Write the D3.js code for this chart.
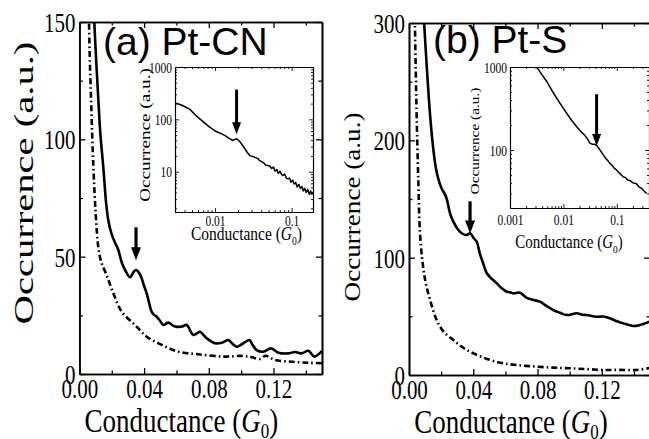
<!DOCTYPE html>
<html>
<head>
<meta charset="utf-8">
<script src="https://cdn.jsdelivr.net/npm/d3@7"></script>
<style>
	html, body { margin: 0; padding: 0; background: #fff; }
	svg { display: block; }
	.serif { font-family: "Liberation Serif", "DejaVu Serif", serif; fill: #000; }
</style>
</head>
<body>
<div id="chart"></div>
<script>
// ---------------------------------------------------------------
// Data
// ---------------------------------------------------------------
var xTicksMain = [0, 0.04, 0.08, 0.12];
var xMinorMain = [0.02, 0.06, 0.10, 0.14];
var yTicksA = [0, 50, 100, 150];
var yMinorA = [25, 75, 125];
var yTicksB = [0, 100, 200, 300];
var yMinorB = [50, 150, 250];

// (a) Pt-CN, solid = with molecules, dash-dot = reference
var cnSolid = [[0.0092,150],[0.0105,132],[0.0117,117],[0.013,102],[0.0148,88],[0.0165,73],[0.018,65],[0.02,59.5],[0.022,56],[0.024,53],[0.0262,47.5],[0.0285,44],[0.0313,41.2],[0.0335,43.5],[0.035,44.3],[0.0368,43.2],[0.0385,40.8],[0.04,37.5],[0.0416,34.4],[0.0432,30],[0.0447,26.5],[0.0462,25.2],[0.0478,24.4],[0.05,22.5],[0.0519,20.9],[0.055,21.9],[0.0581,20.5],[0.0605,20.1],[0.0633,20.2],[0.0664,20.9],[0.0685,18.5],[0.0704,16.6],[0.0725,17.2],[0.0746,18.0],[0.0765,16.8],[0.0787,15.2],[0.0812,14.0],[0.0839,13.1],[0.088,13.3],[0.0921,14.5],[0.0945,13.0],[0.0973,11.6],[0.1014,13.1],[0.1051,14.5],[0.107,12.5],[0.1096,10.2],[0.1137,9.5],[0.1185,10.9],[0.123,9.1],[0.1292,8.8],[0.1333,9.4],[0.1375,8.8],[0.1416,9.9],[0.1453,7.4],[0.15,9.8]];
var cnDash = [[0.0058,155],[0.0064,135],[0.0072,117],[0.0086,89],[0.0101,68],[0.0117,54],[0.0134,48],[0.0169,42],[0.021,34.4],[0.0262,26.5],[0.0344,20.9],[0.0416,15.9],[0.0509,12.4],[0.0612,9.5],[0.0735,8.4],[0.09,7.4],[0.1004,7.7],[0.1066,7.1],[0.112,6.4],[0.115,7.8],[0.121,6.0],[0.1313,5.2],[0.1416,4.8],[0.15,4.6]];

// (b) Pt-S
var sSolid = [[0.0092,305],[0.011,264],[0.0131,222],[0.0151,193],[0.0172,173],[0.0203,159],[0.022,155],[0.0235,150],[0.0255,138],[0.0276,130.7],[0.0305,124],[0.0328,120.8],[0.0359,119.3],[0.038,120.8],[0.0401,117],[0.0421,113.6],[0.0442,103],[0.0462,95],[0.0484,86.7],[0.0515,82],[0.0546,78.2],[0.0577,74],[0.0608,71],[0.0628,70.6],[0.0649,69.6],[0.0691,70.2],[0.073,66],[0.0774,63.9],[0.0815,62.5],[0.0855,59],[0.0898,55.4],[0.094,53],[0.0981,51.1],[0.1044,52.6],[0.1075,51.5],[0.1106,51.1],[0.1168,49.7],[0.121,49.8],[0.125,48.3],[0.129,46],[0.1334,44],[0.1396,41.8],[0.1437,42.6],[0.15,45.6]];
var sDash = [[0.0036,305],[0.0042,260],[0.0048,218],[0.0058,166],[0.0068,122],[0.0087,93],[0.0105,78],[0.0131,64],[0.0172,46.9],[0.0215,37],[0.0276,29.8],[0.034,23],[0.04,18.5],[0.049,13.5],[0.0587,10],[0.0685,8.3],[0.0795,7.1],[0.09,6.3],[0.1002,5.7],[0.111,5.0],[0.1209,4.3],[0.131,4.4],[0.1417,4.3],[0.15,6]];

// insets (log-log)
var cnInset = [[0.003,205],[0.0035,192],[0.004,176],[0.0047,155],[0.0055,122],[0.0065,99],[0.0074,84],[0.0085,71],[0.01,60],[0.0115,55],[0.0135,49],[0.0155,43],[0.0172,39.5],[0.0182,41.5],[0.0191,42.5],[0.0202,40],[0.0211,37.5],[0.0228,32],[0.0245,27.4],[0.0265,23],[0.0285,20.3],[0.031,19.6],[0.0331,18.8],[0.036,18],[0.038,16.4],[0.0405,15.6],[0.043,14.9],[0.046,13.3],[0.0493,13.2],[0.052,12.7],[0.055,11.5],[0.058,12.3],[0.0604,10.3],[0.064,11.0],[0.067,9.3],[0.0705,10.2],[0.0738,8.9],[0.077,8.5],[0.081,9.0],[0.0855,7.5],[0.09,7.3],[0.094,7.6],[0.098,6.3],[0.103,6.9],[0.108,5.8],[0.113,6.2],[0.118,5.1],[0.124,5.7],[0.13,4.8],[0.136,5.2],[0.142,4.3],[0.148,4.8],[0.155,4.0],[0.162,4.6],[0.17,3.7],[0.177,4.3],[0.183,3.7],[0.19,4.0]];
var sInset = [[0.0031,1020],[0.0039,820],[0.0049,665],[0.006,530],[0.0075,420],[0.0093,340],[0.0115,277],[0.0142,228],[0.0177,191],[0.021,168],[0.0252,150],[0.0285,134],[0.0313,121],[0.035,117],[0.0388,117],[0.0418,113],[0.0448,107],[0.05,97],[0.0555,88],[0.062,79],[0.068,74.5],[0.074,69],[0.082,65],[0.09,60],[0.0986,57.5],[0.11,53],[0.12,50.5],[0.131,47.5],[0.145,46.5],[0.16,43.5],[0.18,42.5],[0.202,40],[0.23,39.5],[0.26,36],[0.3,34],[0.33,31.5],[0.36,30]];

var insetXMajorA = [0.01, 0.1];
var insetXMinorA = [0.004,0.005,0.006,0.007,0.008,0.009,0.02,0.03,0.04,0.05,0.06,0.07,0.08,0.09];
var insetYMajorA = [10, 100, 1000];
var insetYMinorA = [2,3,4,5,6,7,8,9,20,30,40,50,60,70,80,90,200,300,400,500,600,700,800,900];
var insetXMajorB = [0.001, 0.01, 0.1];
var insetXMinorB = [0.002,0.003,0.004,0.005,0.006,0.007,0.008,0.009,0.02,0.03,0.04,0.05,0.06,0.07,0.08,0.09,0.2,0.3];
var insetYMajorB = [100, 1000];
var insetYMinorB = [20,30,40,50,60,70,80,90,200,300,400,500,600,700,800,900];

// ---------------------------------------------------------------
var svg = d3.select("#chart").append("svg")
	.attr("width", 649).attr("height", 439);

var clipCount = 0;

// small helper: text stretched vertically (the figure is a bit tall)
function stretchText (g, x, y, k, size, anchor) {
	return g.append("g")
		.attr("transform", "translate(" + x + "," + y + ") scale(1," + k + ")")
		.append("text")
		.attr("class", "serif")
		.attr("font-size", size)
		.attr("text-anchor", anchor || "middle");
}

function drawAxes (g, x, y, p) {
	var h = y.range()[0], w = x.range()[1];
	var k = p.k || 1.3;

	// bottom
	var bx = g.append("g").attr("transform", "translate(0," + h + ")")
		.call(d3.axisBottom(x).tickValues(p.xMajor).tickFormat(p.xFormat).tickSize(-p.major).tickSizeOuter(0));
	bx.attr("font-size", p.tickFont).attr("font-family", null).attr("class", "serif");
	bx.selectAll("text").attr("y", null).attr("dy", "0.35em")
		.attr("transform", "translate(0," + p.xLabelOff + ") scale(1," + k + ")");
	g.append("g").attr("transform", "translate(0," + h + ")")
		.call(d3.axisBottom(x).tickValues(p.xMinor).tickFormat("").tickSize(-p.minor).tickSizeOuter(0));
	// top
	g.append("g").call(d3.axisTop(x).tickValues(p.xMajor).tickFormat("").tickSize(-p.major).tickSizeOuter(0));
	g.append("g").call(d3.axisTop(x).tickValues(p.xMinor).tickFormat("").tickSize(-p.minor).tickSizeOuter(0));
	// left
	var ly = g.append("g")
		.call(d3.axisLeft(y).tickValues(p.yMajor).tickFormat(p.yFormat).tickSize(-p.major).tickSizeOuter(0));
	ly.attr("font-size", p.tickFont).attr("font-family", null).attr("class", "serif");
	ly.selectAll("text").attr("x", null).attr("dy", "0.35em")
		.attr("transform", "translate(" + (-p.yLabelOff) + ",0) scale(1," + k + ")");
	g.append("g").call(d3.axisLeft(y).tickValues(p.yMinor).tickFormat("").tickSize(-p.minor).tickSizeOuter(0));
	// right
	g.append("g").attr("transform", "translate(" + w + ",0)")
		.call(d3.axisRight(y).tickValues(p.yMajor).tickFormat("").tickSize(-p.major).tickSizeOuter(0));
	g.append("g").attr("transform", "translate(" + w + ",0)")
		.call(d3.axisRight(y).tickValues(p.yMinor).tickFormat("").tickSize(-p.minor).tickSizeOuter(0));

	g.selectAll(".domain").attr("stroke", "#000").attr("stroke-width", p.frameW);
	g.selectAll(".tick line").attr("stroke", "#000").attr("stroke-width", p.frameW * 0.8);
	g.selectAll(".tick text").attr("fill", "#000");
}

function addClip (g, w, h) {
	var id = "clip" + (clipCount++);
	g.append("clipPath").attr("id", id)
		.append("rect").attr("width", w).attr("height", h);
	return "url(#" + id + ")";
}

function drawArrow (g, cx, yTop, yTip, shaft, head, headW) {
	g.append("line")
		.attr("x1", cx).attr("x2", cx)
		.attr("y1", yTop).attr("y2", yTip - head + 2)
		.attr("stroke", "#000").attr("stroke-width", shaft);
	g.append("path")
		.attr("d", "M" + (cx - headW / 2) + "," + (yTip - head) + "L" + (cx + headW / 2) + "," + (yTip - head) + "L" + cx + "," + yTip + "Z")
		.attr("fill", "#000");
}

/*
 * Main panel
 */
function drawPanel (p) {
	var g = svg.append("g").attr("transform", "translate(" + p.left + "," + p.top + ")");
	var w = p.width, h = p.height;

	var x = d3.scaleLinear().domain([0, 0.15]).range([0, w]);
	var y = d3.scaleLinear().domain([0, p.yMax]).range([h, 0]);

	var clip = addClip(g, w, h);
	var line = d3.line()
		.x(function (d) { return x(d[0]); })
		.y(function (d) { return y(d[1]); })
		.curve(d3.curveCatmullRom);

	g.append("path").datum(p.dash)
		.attr("clip-path", clip)
		.attr("d", line).attr("fill", "none")
		.attr("stroke", "#000").attr("stroke-width", 2.6)
		.attr("stroke-dasharray", "6,3,1.6,3");
	g.append("path").datum(p.solid)
		.attr("clip-path", clip)
		.attr("d", line).attr("fill", "none")
		.attr("stroke", "#000").attr("stroke-width", 2.6)
		.attr("stroke-linejoin", "round");

	drawAxes(g, x, y, {
		xMajor: xTicksMain, xMinor: xMinorMain,
		yMajor: p.yMajor, yMinor: p.yMinor,
		xFormat: d3.format(".2f"), yFormat: d3.format("d"),
		major: 6, minor: 3.5, tickFont: 21, xLabelOff: 14, yLabelOff: 4,
		frameW: 1.6, k: 1.3
	});

	// arrow at the peak
	drawArrow(g, x(p.arrow[0]), y(p.arrow[1]), y(p.arrow[2]), 3.2, 13, 10);

	// title
	g.append("text")
		.attr("x", p.titleX).attr("y", p.titleY)
		.attr("font-family", "'Liberation Sans', Arial, sans-serif")
		.attr("font-size", 39)
		.attr("fill", "#000")
		.text(p.title);

	// axis titles
	var xt = stretchText(g, 102, h + 58, 1.22, 27);
	xt.append("tspan").text("Conductance (");
	xt.append("tspan").attr("font-style", "italic").text("G");
	xt.append("tspan").attr("font-size", 17).attr("dy", 5).text("0");
	xt.append("tspan").attr("dy", -5).text(")");

	svg.append("g")
		.attr("transform", "translate(" + p.yTitle[0] + "," + p.yTitle[1] + ") scale(1," + p.yTitle[3] + ") rotate(-90)")
		.append("text").attr("class", "serif")
		.attr("font-size", p.yTitle[2]).attr("text-anchor", "middle")
		.text("Occurrence (a.u.)");
}

/*
 * Inset (log-log)
 */
function drawInset (p) {
	var g = svg.append("g").attr("transform", "translate(" + p.left + "," + p.top + ")");
	var w = p.width, h = p.height;

	g.append("rect").attr("width", w).attr("height", h).attr("fill", "#fff");

	var x = d3.scaleLog().domain(p.xDom).range([0, w]);
	var y = d3.scaleLog().domain(p.yDom).range([h, 0]);

	var clip = addClip(g, w, h);
	var line = d3.line()
		.x(function (d) { return x(d[0]); })
		.y(function (d) { return y(d[1]); });

	g.append("path").datum(p.data)
		.attr("clip-path", clip)
		.attr("d", line).attr("fill", "none")
		.attr("stroke", "#000").attr("stroke-width", 1.5)
		.attr("stroke-linejoin", "round");

	drawAxes(g, x, y, {
		xMajor: p.xMajor, xMinor: p.xMinor,
		yMajor: p.yMajor, yMinor: p.yMinor,
		xFormat: function (d) { return String(d); }, yFormat: function (d) { return String(d); },
		major: 4, minor: 2, tickFont: 11.5, xLabelOff: p.xLabelOff, yLabelOff: 3,
		frameW: 1.1, k: 1.25
	});

	drawArrow(g, x(p.arrow[0]), y(p.arrow[1]), y(p.arrow[2]), 3, 12, 9);

	var xt = stretchText(g, p.xTitle[0], p.xTitle[1], 1.2, p.xTitle[2]);
	xt.append("tspan").text("Conductance (");
	xt.append("tspan").attr("font-style", "italic").text("G");
	xt.append("tspan").attr("font-size", p.xTitle[2] * 0.62).attr("dy", 4).text("0");
	xt.append("tspan").attr("dy", -4).text(")");

	svg.append("g")
		.attr("transform", "translate(" + p.yTitle[0] + "," + p.yTitle[1] + ") scale(1," + p.yTitle[3] + ") rotate(-90)")
		.append("text").attr("class", "serif")
		.attr("font-size", p.yTitle[2]).attr("text-anchor", "middle")
		.text("Occurrence (a.u.)");
}

// (a)
drawPanel({
	left: 79.4, top: 22, width: 242.6, height: 352,
	yMax: 150, yMajor: yTicksA, yMinor: yMinorA,
	solid: cnSolid, dash: cnDash,
	arrow: [0.035, 62.5, 48.5],
	title: "(a) Pt-CN", titleX: 23.6, titleY: 33,
	yTitle: [33, 183, 28, 1.45]
});
drawInset({
	left: 175, top: 67, width: 138, height: 145,
	xDom: [0.003, 0.19], yDom: [1.7, 1000],
	xMajor: insetXMajorA, xMinor: insetXMinorA,
	yMajor: insetYMajorA, yMinor: insetYMinorA,
	data: cnInset, arrow: [0.0191, 370, 52],
	xLabelOff: 9, xTitle: [71.5, 173, 15.5],
	yTitle: [150, 135, 15, 1.28]
});

// (b)
drawPanel({
	left: 409, top: 23, width: 241, height: 352,
	yMax: 300, yMajor: yTicksB, yMinor: yMinorB,
	solid: sSolid, dash: sDash,
	arrow: [0.038, 148, 120.5],
	title: "(b) Pt-S", titleX: 24, titleY: 30,
	yTitle: [360, 207, 24, 1.13]
});
drawInset({
	left: 510, top: 67, width: 139, height: 141,
	xDom: [0.001, 0.4], yDom: [20, 1000],
	xMajor: insetXMajorB, xMinor: insetXMinorB,
	yMajor: insetYMajorB, yMinor: insetYMinorB,
	data: sInset, arrow: [0.0418, 470, 112],
	xLabelOff: 12, xTitle: [59, 181, 15],
	yTitle: [479, 141, 13, 1.18]
});
</script>
</body>
</html>
